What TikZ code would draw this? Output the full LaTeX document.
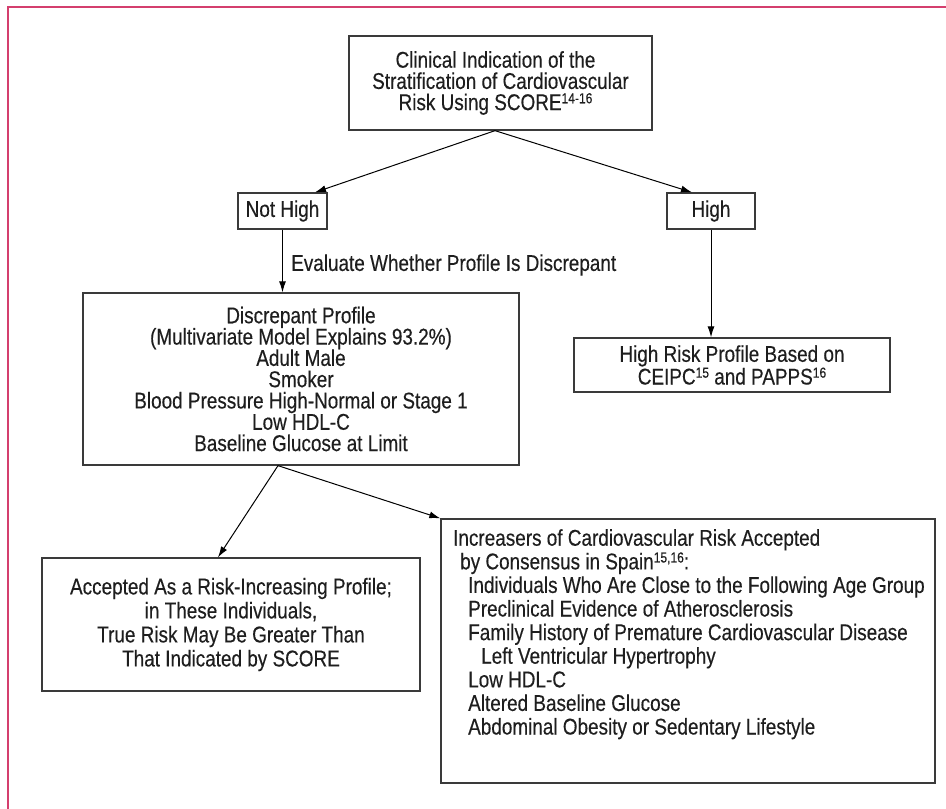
\documentclass[tikz,border=0pt]{standalone}
\usepackage{fontspec}
\setmainfont{Liberation Sans}[FakeStretch=0.83,FakeBold=0.3]
\usetikzlibrary{arrows.meta,calc}
\definecolor{framecol}{HTML}{D43F6E}
\definecolor{boxline}{HTML}{3A3A3A}
\definecolor{ink}{HTML}{1E1E1E}
\newcommand{\supr}[1]{\raisebox{0.3em}{\fontsize{14.5}{14.5}\selectfont #1}}
\begin{document}
\begin{tikzpicture}[x=1pt,y=-1pt,
  box/.style={draw=boxline, line width=1.3pt, inner sep=0pt, text=ink, align=center,
    font=\fontsize{22.8}{20.7}\selectfont},
  conn/.style={draw=black, line width=1pt, -{Latex[length=11pt,width=7pt]}},
  lbl/.style={inner sep=0pt, text=ink, font=\fontsize{22.8}{21}\selectfont}]
\useasboundingbox (0,0) rectangle (946,809);
\fill[white] (0,0) rectangle (946,809);
\draw[framecol, line width=1.6pt] (8,809) -- (8,7) -- (946,7);

\node[box, minimum width=303pt, minimum height=94pt, font=\fontsize{22.8}{21.2}\selectfont] (top) at (500.5,83)
  {Clinical Indication of the\hspace*{10pt}\\Stratification of Cardiovascular\hspace*{10pt}\\Risk Using SCORE\supr{14-16}\hspace*{10pt}};
\node[box, minimum width=89pt, minimum height=36pt] (nothigh) at (282.5,211) {Not High};
\node[box, minimum width=88pt, minimum height=36pt] (high) at (711,211) {High};
\node[box, minimum width=436pt, minimum height=172pt, font=\fontsize{22.8}{21.3}\selectfont] (disc) at (301,379)
  {Discrepant Profile\\(Multivariate Model Explains 93.2\%)\\Adult Male\\Smoker\\Blood Pressure High-Normal or Stage 1\\Low HDL-C\\Baseline Glucose at Limit};
\node[box, minimum width=316pt, minimum height=54pt] (highrisk) at (732,365)
  {High Risk Profile Based on\\CEIPC\supr{15} and PAPPS\supr{16}};
\node[box, minimum width=378pt, minimum height=133pt, font=\fontsize{22.8}{24}\selectfont] (accepted) at (231,624.5)
  {Accepted As a Risk-Increasing Profile;\\in These Individuals,\\True Risk May Be Greater Than\\That Indicated by SCORE};
\node[box, minimum width=494pt, minimum height=264pt] (incr) at (688,651) {};
\node[lbl, anchor=north west, align=left, font=\fontsize{22.8}{23.6}\selectfont] (incrtext) at (453,529)
  {Increasers of Cardiovascular Risk Accepted\\
   \hspace*{7pt}by Consensus in Spain\supr{15,16}:\\
   \hspace*{15pt}Individuals Who Are Close to the Following Age Group\\
   \hspace*{15pt}Preclinical Evidence of Atherosclerosis\\
   \hspace*{15pt}Family History of Premature Cardiovascular Disease\\
   \hspace*{28pt}Left Ventricular Hypertrophy\\
   \hspace*{15pt}Low HDL-C\\
   \hspace*{15pt}Altered Baseline Glucose\\
   \hspace*{15pt}Abdominal Obesity or Sedentary Lifestyle};

\coordinate (split) at ($(top.south)+(-5.5,0)$);
\draw[conn] (split) -- ($(nothigh.north)+(32.5,0)$);
\draw[conn] (split) -- ($(high.north)+(-19,0)$);
\draw[conn] (nothigh.south) -- (nothigh.south |- disc.north);
\node[lbl, anchor=west] (evaltext) at (291,265) {Evaluate Whether Profile Is Discrepant};
\draw[conn] (high.south) -- (high.south |- highrisk.north);
\coordinate (split2) at ($(disc.south)+(-23,0)$);
\draw[conn] (split2) -- ($(accepted.north)+(-13,0)$);
\draw[conn] (split2) -- (incr.north west);
\end{tikzpicture}
\end{document}
